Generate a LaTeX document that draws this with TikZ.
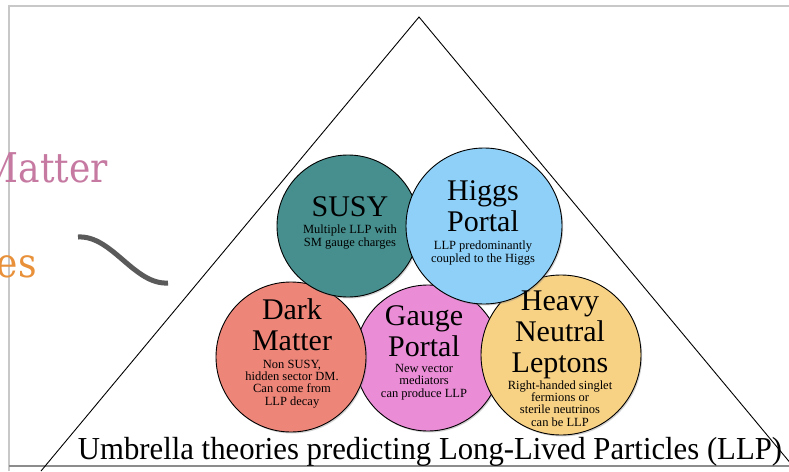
\documentclass[tikz,border=0pt]{standalone}
\usepackage{fontspec}
\setmainfont{Liberation Serif}
\newfontfamily\fragfont{DejaVu Serif}
\usetikzlibrary{shadows}
\definecolor{susyc}{RGB}{70,143,142}
\definecolor{higgsc}{RGB}{142,208,247}
\definecolor{dmc}{RGB}{238,133,121}
\definecolor{gaugec}{RGB}{234,140,214}
\definecolor{hnlc}{RGB}{247,209,132}
\definecolor{fragpink}{RGB}{198,122,162}
\definecolor{fragorange}{RGB}{232,145,58}
\definecolor{squig}{RGB}{90,90,90}
\definecolor{framec}{RGB}{200,200,200}
\tikzset{
  circ/.style={circle, draw=black, line width=0.9pt, inner sep=0pt,
    drop shadow={opacity=0.35, shadow xshift=1.2pt, shadow yshift=-1.5pt}},
  ttl/.style={anchor=base, inner sep=0pt, align=center, font=\fontsize{30}{31}\selectfont},
  sub/.style={anchor=base, inner sep=0pt, align=center, font=\fontsize{12.5}{12.3}\selectfont},
  frag/.style={anchor=base east, inner sep=0pt, font=\fragfont\fontsize{41}{41}\selectfont}
}
\begin{document}
\begin{tikzpicture}[x=1pt,y=-1pt]
\useasboundingbox (0,0) rectangle (789,471);
\clip (0,0) rectangle (789,471);
\fill[white] (0,0) rectangle (789,471);
% frame
\coordinate (ftl) at (9,6);
\coordinate (ftr) at (789,6);
\coordinate (fbl) at (9,471);
\coordinate (fbb) at (9,466);
\coordinate (fbr) at (789,466);
\draw[framec, line width=1.2pt] (fbl) -- (ftl) -- (ftr);
\draw[framec!70!black, line width=1.2pt] (fbb) -- (fbr);
% fragments
\node[frag, text=fragpink] (fmatter) at (108,182) {\scalebox{0.88}[1]{Matter}};
\node[frag, text=fragorange] (fes) at (37,277) {\scalebox{0.88}[1]{es}};
\coordinate (sq1) at (78,237);
\coordinate (sq2) at (168,283);
\draw[squig, line width=5pt] (sq1) .. controls (112,235) and (134,285) .. (sq2);
% triangle
\coordinate (apex) at (419,17);
\coordinate (bl) at (41,471);
\coordinate (br) at (797,471);
\draw[black, line width=0.9pt] (bl) -- (apex) -- (br);
% circles
\node[circ, fill=gaugec, minimum size=146pt] (gauge) at (428,358) {};
\node[circ, fill=dmc, minimum size=150pt] (dm) at (291,357) {};
\node[circ, fill=hnlc, minimum size=160pt] (hnl) at (561,355) {};
\node[circ, fill=susyc, minimum size=142pt] (susy) at (348,226) {};
\node[circ, fill=higgsc, minimum size=156pt] (higgs) at (484,226) {};
% texts (anchor = baseline of last line)
\node[ttl] (susyT) at (350,216) {SUSY};
\node[sub] (susyS) at (350,246) {Multiple LLP with\\SM gauge charges};
\node[ttl] (higgsT) at (483,231) {Higgs\\Portal};
\node[sub] (higgsS) at (483,262) {LLP predominantly\\coupled to the Higgs};
\node[ttl] (dmT) at (292,350) {Dark\\Matter};
\node[sub] (dmS) at (292,405) {Non SUSY,\\hidden sector DM.\\Can come from\\LLP decay};
\node[ttl] (gaugeT) at (424,356) {Gauge\\Portal};
\node[sub] (gaugeS) at (424,397) {New vector\\mediators\\can produce LLP};
\node[ttl] (hnlT) at (560,372) {Heavy\\Neutral\\Leptons};
\node[sub] (hnlS) at (560,426) {Right-handed singlet\\fermions or\\sterile neutrinos\\can be LLP};
% bottom title
\node[anchor=base, inner sep=0pt, font=\fontsize{32}{32}\selectfont] (umb) at (430,459)
  {\resizebox{704pt}{\height}{Umbrella theories predicting Long-Lived Particles (LLP)}};
\end{tikzpicture}
\end{document}
